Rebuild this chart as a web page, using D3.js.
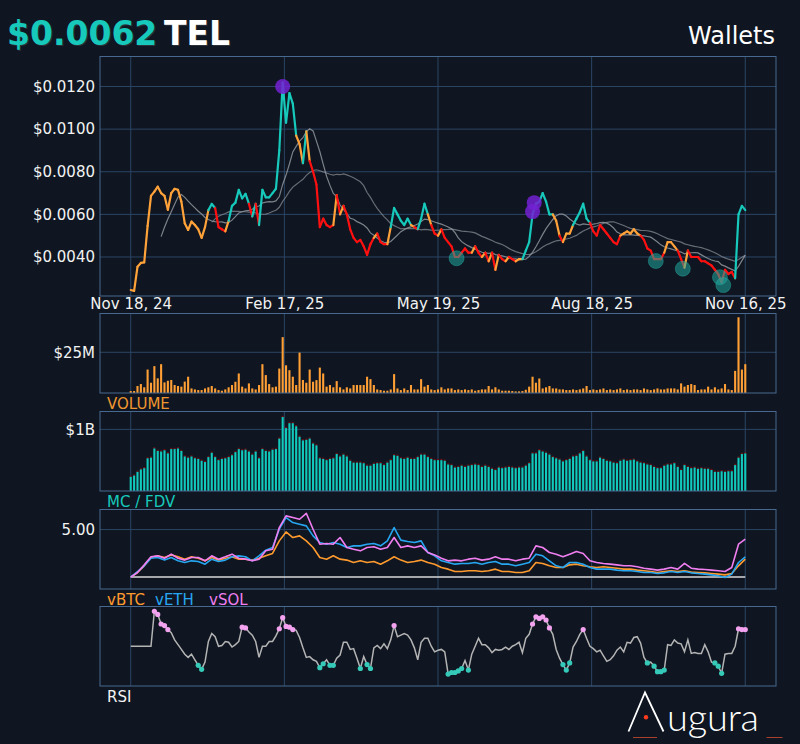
<!DOCTYPE html>
<html>
<head>
<meta charset="utf-8">
<script src="https://cdn.jsdelivr.net/npm/d3@7"></script>
<style>
html, body { margin: 0; padding: 0; background: #0f1621; }
svg { display: block; }
</style>
</head>
<body>
<div id="chart"></div>
<script>
// ---- data (price etc. every 2 days from Nov 18 2024, relative series every 4 days) ----
const startDate = new Date(2024, 10, 18);
const symbol = 'TEL';
const tickLabels = ['Nov 18, 24', 'Feb 17, 25', 'May 19, 25', 'Aug 18, 25', 'Nov 16, 25'];
const priceTicks = [0.004, 0.006, 0.008, 0.010, 0.012];
const volumeTicks = [25];
const mcTicks = [1];
const relTicks = [5];

const price = [
	0.00245, 0.00241, 0.00354, 0.00372, 0.00375, 0.00546, 0.00687, 0.00707, 0.0073, 0.0070,
	0.00687, 0.00622, 0.0070, 0.0072, 0.00715, 0.0066, 0.00558, 0.00527, 0.00566, 0.0055,
	0.0053, 0.0049, 0.0054, 0.0062, 0.00649, 0.0063, 0.0054, 0.0053, 0.0052, 0.0057,
	0.0064, 0.00655, 0.00715, 0.00675, 0.00696, 0.0065, 0.0059, 0.0065, 0.0055, 0.00715,
	0.0068, 0.0068, 0.0070, 0.0072, 0.0090, 0.01219, 0.0103, 0.01169, 0.0112, 0.0097,
	0.0093, 0.0084, 0.0099, 0.0085, 0.0080, 0.0074, 0.0054, 0.0058, 0.0055, 0.0054,
	0.0055, 0.0069, 0.0060, 0.0064, 0.0060, 0.0053, 0.0049, 0.0047, 0.0048, 0.0045,
	0.0041, 0.0046, 0.0049, 0.0051, 0.0047, 0.0046, 0.0046, 0.0054, 0.0063, 0.0060,
	0.0057, 0.0055, 0.0058, 0.0055, 0.0054, 0.0053, 0.0058, 0.0065, 0.0060, 0.0055,
	0.0051, 0.0050, 0.0053, 0.0049, 0.0047, 0.0045, 0.0040, 0.0040, 0.0042, 0.0044,
	0.0042, 0.0042, 0.0045, 0.0042, 0.0040, 0.0042, 0.0038, 0.0042, 0.0034, 0.0041,
	0.0039, 0.0038, 0.0040, 0.0039, 0.0038, 0.0039, 0.0039, 0.0043, 0.0047, 0.0060,
	0.0065, 0.0066, 0.0070, 0.0066, 0.0060, 0.0060, 0.0057, 0.0050, 0.0047, 0.0051,
	0.0051, 0.0055, 0.0058, 0.0061, 0.0065, 0.0058, 0.0056, 0.0052, 0.0050, 0.0055,
	0.0053, 0.0051, 0.0049, 0.0047, 0.0046, 0.0050, 0.0051, 0.0052, 0.0051, 0.0053,
	0.0051, 0.0050, 0.0048, 0.0044, 0.0043, 0.0039, 0.0039, 0.0039, 0.0042, 0.0047,
	0.0047, 0.0045, 0.0043, 0.0039, 0.0035, 0.0043, 0.0040, 0.0040, 0.0040, 0.0038,
	0.0038, 0.0037, 0.0036, 0.0034, 0.0032, 0.0028, 0.0034, 0.0032, 0.0033, 0.0030,
	0.0060, 0.0064, 0.0062
];

// volume in $M
const volume = [
	1.2, 1.2, 4.3, 5.5, 3.5, 14.4, 6.3, 16.5, 9, 17.7,
	6.5, 7.5, 8, 4.9, 4.3, 3.9, 7, 10, 2.8, 2.2,
	1.8, 1.8, 2.8, 3.5, 4.3, 2.8, 1.8, 1.4, 2.2, 3.5,
	4.9, 6.9, 12, 3.9, 2.8, 5.9, 2.8, 2.2, 4.9, 17.7,
	11, 5.5, 3.5, 3.9, 15, 34.3, 17, 14, 10, 4.9,
	24.8, 8, 6.3, 14.4, 6.9, 7.9, 15.6, 12, 3.9, 4.9,
	3.5, 7.3, 3.5, 2.2, 3.5, 2.8, 4.9, 4.9, 4.9, 4.9,
	10, 8.5, 4.9, 2.2, 1.8, 1.4, 1.4, 2.2, 11.6, 2.8,
	1.8, 2.8, 1.8, 4.9, 2.2, 2.2, 8.5, 3.9, 4.9, 2.2,
	1.8, 2.2, 3.5, 2.2, 2.8, 2.8, 1.8, 2.2, 1.8, 2.2,
	1.8, 2.2, 1.4, 1.8, 2.2, 2.2, 4.3, 2.2, 3.5, 2.2,
	1.4, 1.4, 1.4, 1.2, 1.0, 1.0, 1.2, 2.0, 3.9, 10,
	6.3, 8.9, 2.8, 3.5, 4.3, 2.8, 2.8, 2.2, 2.2, 1.8,
	1.8, 2.2, 1.8, 2.2, 2.8, 4.3, 1.8, 2.2, 1.8, 2.2,
	2.8, 1.8, 2.2, 1.8, 2.2, 2.8, 1.8, 2.2, 1.8, 2.2,
	2.2, 1.8, 2.8, 2.2, 1.8, 2.2, 2.8, 2.2, 2.2, 2.8,
	2.8, 2.8, 2.2, 5.9, 3.9, 4.9, 5.5, 4.9, 1.8, 2.2,
	2.2, 3.9, 2.2, 3.5, 2.2, 2.8, 5.5, 2.2, 1.8, 13.6,
	46.5, 14.4, 17.7
];

// market cap in $B
const marketCap = [
	0.23, 0.25, 0.31, 0.35, 0.37, 0.53, 0.54, 0.69, 0.65, 0.64,
	0.66, 0.61, 0.68, 0.68, 0.69, 0.65, 0.56, 0.54, 0.56, 0.53,
	0.52, 0.49, 0.47, 0.55, 0.62, 0.55, 0.50, 0.52, 0.53, 0.55,
	0.58, 0.63, 0.68, 0.66, 0.67, 0.64, 0.59, 0.64, 0.53, 0.68,
	0.65, 0.64, 0.67, 0.68, 0.85, 1.20, 1.02, 1.10, 1.10, 1.05,
	0.88, 0.82, 0.83, 0.85, 0.77, 0.74, 0.53, 0.52, 0.50, 0.52,
	0.53, 0.60, 0.56, 0.59, 0.56, 0.49, 0.46, 0.46, 0.46, 0.45,
	0.41, 0.41, 0.44, 0.45, 0.45, 0.42, 0.46, 0.50, 0.58, 0.57,
	0.53, 0.52, 0.54, 0.52, 0.52, 0.55, 0.59, 0.59, 0.55, 0.52,
	0.50, 0.50, 0.50, 0.49, 0.43, 0.42, 0.38, 0.39, 0.41, 0.39,
	0.41, 0.42, 0.43, 0.42, 0.39, 0.41, 0.39, 0.36, 0.34, 0.38,
	0.37, 0.38, 0.39, 0.38, 0.37, 0.38, 0.38, 0.41, 0.45, 0.61,
	0.61, 0.66, 0.64, 0.62, 0.59, 0.55, 0.53, 0.51, 0.48, 0.50,
	0.52, 0.56, 0.57, 0.61, 0.65, 0.56, 0.50, 0.48, 0.48, 0.54,
	0.52, 0.49, 0.48, 0.46, 0.45, 0.49, 0.51, 0.49, 0.50, 0.51,
	0.48, 0.46, 0.45, 0.43, 0.42, 0.39, 0.37, 0.37, 0.41, 0.43,
	0.43, 0.45, 0.39, 0.34, 0.42, 0.39, 0.37, 0.38, 0.36, 0.37,
	0.36, 0.36, 0.34, 0.31, 0.31, 0.32, 0.31, 0.32, 0.32, 0.42,
	0.54, 0.60, 0.61
];

const rsi = [
	50, 50, 50, 50, 50, 50, 50, 94, 90, 78,
	76, 71, 67, 58, 52, 46, 40, 36, 40, 33,
	26, 21, 30, 56, 66, 62, 50, 51, 56, 55,
	49, 52, 56, 74, 73, 68, 64, 56, 36, 50,
	50, 56, 56, 63, 72, 86, 75, 74, 71, 70,
	61, 48, 36, 37, 33, 31, 23, 28, 33, 26,
	26, 35, 39, 55, 55, 46, 47, 35, 22, 37,
	27, 22, 48, 51, 47, 53, 47, 58, 76, 62,
	64, 66, 64, 58, 48, 33, 55, 60, 60, 50,
	43, 45, 46, 43, 15, 17, 17, 19, 22, 32,
	20, 40, 50, 60, 52, 52, 48, 42, 46, 45,
	46, 49, 46, 50, 52, 55, 42, 60, 65, 78,
	87, 85, 87, 83, 73, 65, 46, 35, 27, 20,
	29, 49, 56, 65, 71, 60, 50, 47, 43, 45,
	38, 31, 33, 38, 45, 49, 43, 55, 54, 61,
	62, 54, 36, 29, 30, 25, 18, 18, 20, 52,
	51, 58, 54, 53, 43, 58, 41, 42, 41, 41,
	52, 43, 30, 29, 25, 16, 40, 41, 41, 50,
	72, 71, 71
];

// price relative to BTC / ETH / SOL, start = 1
const vBTC = [
	1.00, 1.39, 1.95, 2.65, 2.79, 2.65, 2.87, 2.71, 2.51, 2.71,
	2.59, 2.37, 2.65, 2.43, 2.59, 2.71, 2.51, 2.51, 2.43, 2.59,
	2.79, 2.99, 4.05, 4.80, 4.33, 4.47, 4.05, 3.49, 2.65, 2.51,
	2.79, 2.51, 2.43, 2.23, 2.37, 2.23, 2.31, 2.09, 2.37, 2.71,
	2.43, 2.23, 2.31, 2.43, 2.23, 2.09, 1.81, 1.67, 1.47, 1.47,
	1.53, 1.53, 1.47, 1.53, 1.67, 1.47, 1.47, 1.39, 1.39, 1.53,
	2.23, 2.15, 1.95, 1.81, 1.81, 2.03, 2.09, 1.95, 1.87, 1.81,
	1.87, 1.81, 1.75, 1.67, 1.67, 1.59, 1.53, 1.47, 1.39, 1.47,
	1.53, 1.47, 1.53, 1.42, 1.39, 1.36, 1.31, 1.25, 1.19, 1.31,
	1.95, 2.51
];
const vETH = [
	1.00, 1.47, 1.95, 2.59, 2.65, 2.43, 2.65, 2.37, 2.23, 2.37,
	2.31, 2.09, 2.51, 2.31, 2.43, 2.71, 2.79, 2.71, 2.37, 2.79,
	3.27, 3.49, 5.03, 6.00, 5.59, 5.45, 5.31, 4.47, 3.91, 3.77,
	3.91, 3.77, 3.49, 3.63, 3.63, 3.77, 3.83, 3.63, 4.05, 5.17,
	4.11, 3.99, 3.91, 4.05, 3.07, 2.79, 2.37, 2.23, 2.09, 2.15,
	2.15, 2.23, 2.09, 2.23, 2.31, 2.09, 2.09, 1.95, 2.09, 2.23,
	2.93, 2.79, 2.37, 1.95, 1.81, 2.23, 2.23, 2.09, 1.81, 1.67,
	1.67, 1.67, 1.59, 1.53, 1.53, 1.47, 1.39, 1.39, 1.31, 1.36,
	1.47, 1.39, 1.47, 1.36, 1.31, 1.25, 1.19, 1.11, 0.97, 1.25,
	2.23, 2.71
];
const vSOL = [
	1.00, 1.39, 2.03, 2.71, 2.79, 2.59, 2.93, 2.59, 2.43, 2.65,
	2.65, 2.37, 2.79, 2.51, 2.71, 2.93, 2.59, 2.51, 2.37, 2.51,
	3.21, 3.35, 5.17, 6.15, 6.01, 5.87, 6.37, 5.03, 3.77, 3.83,
	3.77, 4.33, 3.49, 3.35, 3.21, 3.49, 3.55, 3.35, 3.49, 4.33,
	3.49, 3.63, 3.49, 3.63, 3.07, 2.87, 2.59, 2.37, 2.43, 2.37,
	2.51, 2.59, 2.43, 2.51, 2.71, 2.51, 2.51, 2.37, 2.51, 2.59,
	3.63, 3.49, 3.07, 2.93, 2.71, 2.93, 3.15, 2.99, 2.37, 2.23,
	2.15, 2.09, 2.03, 1.95, 1.95, 1.87, 1.75, 1.67, 1.59, 1.67,
	1.81, 1.67, 2.15, 1.75, 1.67, 1.64, 1.59, 1.53, 1.47, 1.81,
	3.77, 4.19
];

// wallet signals drawn on the price line
const walletHighDates = ['2025-02-16', '2025-07-15', '2025-07-14'];
const walletHighPrices = [0.0120, 0.00655, 0.00613];
const walletLowDates = ['2025-05-30', '2025-09-25', '2025-10-11', '2025-11-02', '2025-11-04'];
const walletLowPrices = [0.00394, 0.00381, 0.00345, 0.00305, 0.00268];

// ---- layout / style ----
const BG = '#0f1621';
const FRAME = '#48698f';
const GRID = '#2b4564';
const TEAL = '#17c9bb';
const ORANGE = '#ffa23a';
const RED = '#ff1010';
const FONT = '"DejaVu Sans", sans-serif';
const plotLeft = 100, plotRight = 776;
const panels = {
	price: [56.5, 296],
	volume: [313.5, 393],
	mc: [411.5, 491],
	rel: [509.5, 589],
	rsi: [606.5, 686]
};

const parseDate = d3.timeParse('%Y-%m-%d');
const dates2 = price.map((_, i) => d3.timeDay.offset(startDate, 2 * i));
const dates4 = vBTC.map((_, i) => d3.timeDay.offset(startDate, 4 * i));

const svg = d3.select('#chart').append('svg')
	.attr('width', 800)
	.attr('height', 744);
svg.append('rect').attr('width', 800).attr('height', 744).attr('fill', BG);

const first = dates2[0], last = dates2[dates2.length - 1];
const pad = (last - first) * 0.05;
const x = d3.scaleTime()
	.domain([new Date(+first - pad), new Date(+last + pad)])
	.range([plotLeft, plotRight]);
const tickDates = tickLabels.map((_, i) => new Date(+first + (last - first) * i / (tickLabels.length - 1)));

function drawFrame(key, y, ticks, fmt) {
	const [top, bottom] = panels[key];
	const g = svg.append('g');
	g.append('g').selectAll('line')
		.data(tickDates)
		.join('line')
		.attr('x1', d => x(d)).attr('x2', d => x(d))
		.attr('y1', top).attr('y2', bottom)
		.attr('stroke', GRID);
	g.append('g').selectAll('line')
		.data(ticks)
		.join('line')
		.attr('x1', plotLeft).attr('x2', plotRight)
		.attr('y1', d => y(d)).attr('y2', d => y(d))
		.attr('stroke', GRID);
	const axis = g.append('g')
		.attr('transform', `translate(${plotLeft},0)`)
		.call(d3.axisLeft(y).tickValues(ticks).tickFormat(fmt).tickSize(0).tickPadding(5));
	axis.select('.domain').remove();
	axis.selectAll('text')
		.attr('fill', '#f2f2f2')
		.style('font-family', FONT)
		.style('font-size', '15px');
	return g;
}

function drawBorder(key) {
	const [top, bottom] = panels[key];
	svg.append('rect')
		.attr('x', plotLeft).attr('y', top)
		.attr('width', plotRight - plotLeft).attr('height', bottom - top)
		.attr('fill', 'none')
		.attr('stroke', FRAME);
}

function panelLabel(key, parts) {
	const bottom = panels[key][1];
	const t = svg.append('g');
	parts.forEach(p => {
		t.append('text')
			.attr('x', p.x).attr('y', bottom + 16)
			.attr('fill', p.color)
			.style('font-family', FONT)
			.style('font-size', '15px')
			.text(p.text);
	});
}

// ---- header ----
const headPrice = '$' + price[price.length - 1].toFixed(4);
[[1, '#2c323c'], [0, null]].forEach(([off, col]) => {
	svg.append('text')
		.attr('x', 7 + off).attr('y', 45 + off)
		.attr('fill', col || TEAL)
		.style('font-family', FONT).style('font-weight', 'bold').style('font-size', '33px')
		.text(headPrice);
	svg.append('text')
		.attr('x', 164 + off).attr('y', 45 + off)
		.attr('fill', col || '#ffffff')
		.style('font-family', FONT).style('font-weight', 'bold').style('font-size', '33px')
		.text(symbol);
});
svg.append('text')
	.attr('x', 775).attr('y', 44)
	.attr('text-anchor', 'end')
	.attr('fill', '#ffffff')
	.style('font-family', FONT).style('font-size', '24px')
	.text('Wallets');

// ---- price panel ----
const yPrice = d3.scaleLinear()
	.domain([d3.min(price) * 0.9, d3.max(price) * 1.1])
	.range([panels.price[1], panels.price[0]]);
drawFrame('price', yPrice, priceTicks, d => '$' + d.toFixed(4));

const xAxis = svg.append('g')
	.attr('transform', `translate(0,${panels.price[1]})`)
	.call(d3.axisBottom(x).tickValues(tickDates).tickFormat((d, i) => tickLabels[i]).tickSize(0).tickPadding(2));
xAxis.select('.domain').remove();
xAxis.selectAll('text')
	.attr('fill', '#f2f2f2')
	.style('font-family', FONT)
	.style('font-size', '15px');

function movingAverage(values, n) {
	return values.map((v, i) => i < n - 1 ? null : d3.mean(values.slice(i - n + 1, i + 1)));
}
const maShort = movingAverage(price, 10);
const maLong = movingAverage(price, 25);

const maLine = d3.line()
	.defined(d => d[1] != null)
	.x(d => x(d[0]))
	.y(d => yPrice(d[1]));
svg.append('path')
	.attr('d', maLine(dates2.map((d, i) => [d, maLong[i]])))
	.attr('fill', 'none').attr('stroke', '#858a91').attr('stroke-width', 1.2).attr('opacity', 0.75);
svg.append('path')
	.attr('d', maLine(dates2.map((d, i) => [d, maShort[i]])))
	.attr('fill', 'none').attr('stroke', '#999ea4').attr('stroke-width', 1.2).attr('opacity', 0.8);

function trendColor(i) {
	if (maShort[i] == null || maLong[i] == null) return ORANGE;
	if (price[i] > maShort[i] && price[i] > maLong[i]) return TEAL;
	if (price[i] < maShort[i] && price[i] < maLong[i]) return RED;
	return ORANGE;
}
const segments = d3.range(1, price.length).map(i => ({ a: i - 1, b: i, color: trendColor(i) }));
svg.append('g').selectAll('line')
	.data(segments)
	.join('line')
	.attr('x1', d => x(dates2[d.a])).attr('y1', d => yPrice(price[d.a]))
	.attr('x2', d => x(dates2[d.b])).attr('y2', d => yPrice(price[d.b]))
	.attr('stroke', d => d.color)
	.attr('stroke-width', 2.2)
	.attr('stroke-linecap', 'round');

svg.append('g').selectAll('circle')
	.data(walletLowDates.map((d, i) => [parseDate(d), walletLowPrices[i]]))
	.join('circle')
	.attr('cx', d => x(d[0])).attr('cy', d => yPrice(d[1]))
	.attr('r', 7.5)
	.attr('fill', '#1fa79c').attr('fill-opacity', 0.55)
	.attr('stroke', '#2cc4b6').attr('stroke-opacity', 0.35);
svg.append('g').selectAll('circle')
	.data(walletHighDates.map((d, i) => [parseDate(d), walletHighPrices[i]]))
	.join('circle')
	.attr('cx', d => x(d[0])).attr('cy', d => yPrice(d[1]))
	.attr('r', 7.5)
	.attr('fill', '#7321d2').attr('fill-opacity', 0.85);
drawBorder('price');

// ---- volume ----
const barW = (x(dates2[1]) - x(dates2[0])) * 0.62;
const yVol = d3.scaleLinear()
	.domain([0, d3.max(volume) * 1.05])
	.range([panels.volume[1], panels.volume[0]]);
drawFrame('volume', yVol, volumeTicks, d => '$' + d + 'M');
svg.append('g').selectAll('rect')
	.data(volume)
	.join('rect')
	.attr('x', (d, i) => x(dates2[i]) - barW / 2)
	.attr('y', d => yVol(d))
	.attr('width', barW)
	.attr('height', d => yVol(0) - yVol(d))
	.attr('fill', '#ff9f35');
drawBorder('volume');
panelLabel('volume', [{ text: 'VOLUME', x: 107, color: '#ef9630' }]);

// ---- market cap / fdv ----
const yMc = d3.scaleLinear()
	.domain([0, d3.max(marketCap) * 1.075])
	.range([panels.mc[1], panels.mc[0]]);
drawFrame('mc', yMc, mcTicks, d => '$' + d + 'B');
const mcBars = svg.append('g');
mcBars.selectAll('rect.fdv')
	.data(marketCap)
	.join('rect')
	.attr('class', 'fdv')
	.attr('x', (d, i) => x(dates2[i]) - barW / 2)
	.attr('y', d => yMc(d) - 1.3)
	.attr('width', barW)
	.attr('height', 1.3)
	.attr('fill', '#6b1016');
mcBars.selectAll('rect.mc')
	.data(marketCap)
	.join('rect')
	.attr('class', 'mc')
	.attr('x', (d, i) => x(dates2[i]) - barW / 2)
	.attr('y', d => yMc(d))
	.attr('width', barW)
	.attr('height', d => yMc(0) - yMc(d))
	.attr('fill', '#12cabc');
drawBorder('mc');
panelLabel('mc', [{ text: 'MC / FDV', x: 107, color: TEAL }]);

// ---- relative performance ----
const yRel = d3.scaleLinear()
	.domain([0, d3.max([...vBTC, ...vETH, ...vSOL]) * 1.05])
	.range([panels.rel[1], panels.rel[0]]);
drawFrame('rel', yRel, relTicks, d => d.toFixed(2));
svg.append('line')
	.attr('x1', x(first)).attr('x2', x(last))
	.attr('y1', yRel(1)).attr('y2', yRel(1))
	.attr('stroke', '#d8d8d8').attr('stroke-width', 1.5);
const relLine = d3.line()
	.x((d, i) => x(dates4[i]))
	.y(d => yRel(d));
[[vBTC, '#ff9a2e'], [vETH, '#27a6f2'], [vSOL, '#f07ef0']].forEach(([s, c]) => {
	svg.append('path')
		.attr('d', relLine(s))
		.attr('fill', 'none')
		.attr('stroke', c)
		.attr('stroke-width', 1.6)
		.attr('stroke-linejoin', 'round');
});
drawBorder('rel');
panelLabel('rel', [
	{ text: 'vBTC', x: 107, color: '#ff9a2e' },
	{ text: 'vETH', x: 155, color: '#27a6f2' },
	{ text: 'vSOL', x: 209, color: '#f07ef0' }
]);

// ---- RSI ----
const yRsi = d3.scaleLinear()
	.domain([0, 100])
	.range([panels.rsi[1], panels.rsi[0]]);
drawFrame('rsi', yRsi, [], d => d);
svg.append('path')
	.attr('d', d3.line().x((d, i) => x(dates2[i])).y(d => yRsi(d))(rsi))
	.attr('fill', 'none')
	.attr('stroke', '#b4b4b4')
	.attr('stroke-width', 1.5);
svg.append('g').selectAll('circle')
	.data(rsi.map((v, i) => [dates2[i], v]).filter(d => d[1] > 70 || d[1] < 30))
	.join('circle')
	.attr('cx', d => x(d[0]))
	.attr('cy', d => yRsi(d[1]))
	.attr('r', 2.6)
	.attr('fill', d => d[1] > 70 ? '#f3a2f0' : '#35c9b8');
drawBorder('rsi');
panelLabel('rsi', [{ text: 'RSI', x: 107, color: '#f2f2f2' }]);

// ---- logo ----
const logo = svg.append('g');
logo.append('path')
	.attr('d', 'M628.5,731.5 L645,692.5 L663.5,731.5')
	.attr('fill', 'none').attr('stroke', '#ffffff').attr('stroke-width', 1.8);
logo.append('circle').attr('cx', 646).attr('cy', 717.3).attr('r', 2.2).attr('fill', '#ff3a1e');
logo.append('text')
	.attr('x', 667).attr('y', 731)
	.attr('fill', '#ffffff')
	.attr('textLength', 92)
	.style('font-family', 'Lato, sans-serif').style('font-weight', 300).style('font-size', '38px')
	.text('ugura');
logo.append('line').attr('x1', 633).attr('x2', 657).attr('y1', 737.5).attr('y2', 737.5)
	.attr('stroke', '#a8402c').attr('stroke-width', 1);
logo.append('line').attr('x1', 766.5).attr('x2', 782.5).attr('y1', 737.5).attr('y2', 737.5)
	.attr('stroke', '#a8402c').attr('stroke-width', 1);
</script>
</body>
</html>
